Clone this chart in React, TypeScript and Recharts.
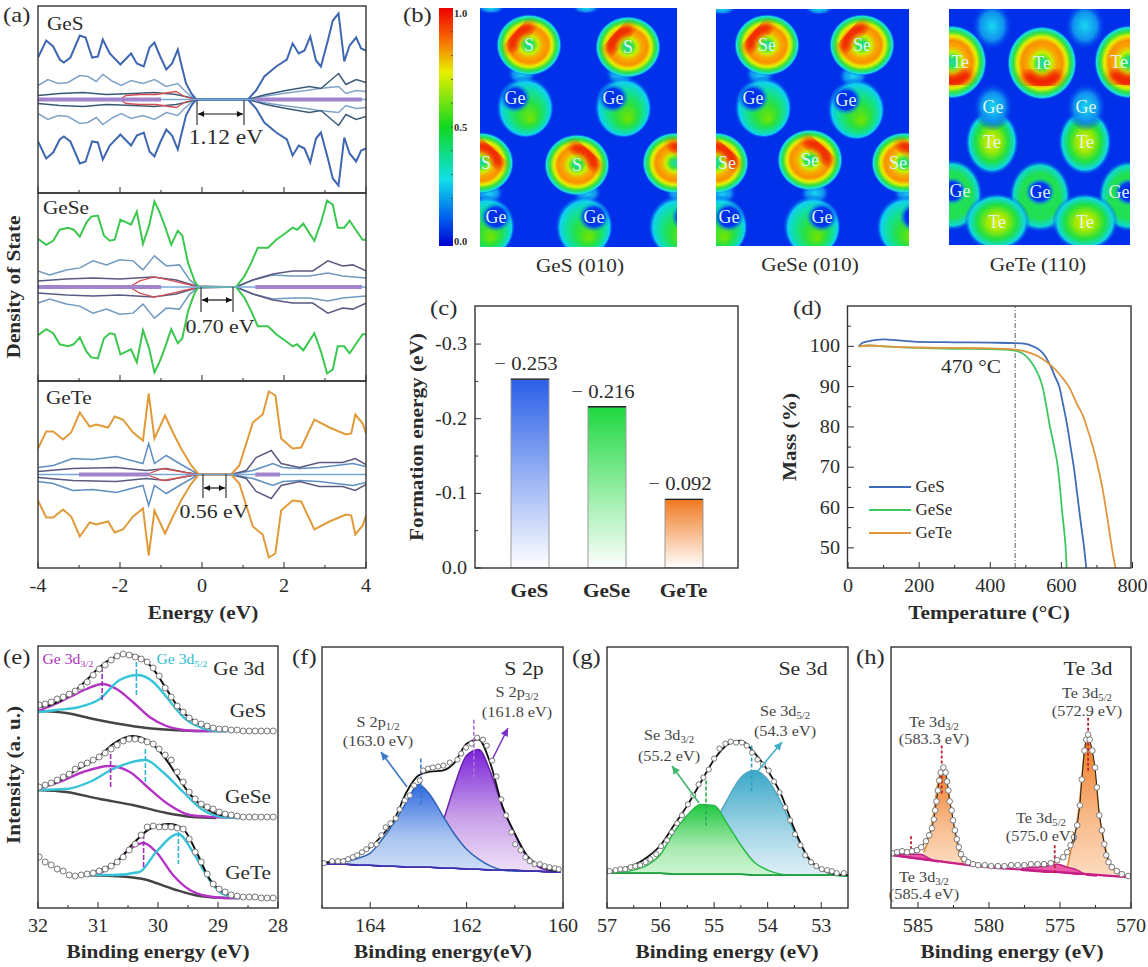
import React from 'react';
import {
  Area,
  Bar,
  ComposedChart,
  LabelList,
  Legend,
  Line,
  ReferenceLine,
  Scatter,
  ScatterChart,
  XAxis,
  YAxis,
} from 'recharts';

const SERIF = '"Liberation Serif", "Times New Roman", serif';
const INK = '#2b2b2b';

type Pair = number[];

// (a) density of states, mirrored around zero (the spin channels are symmetric)
const gesTotal = [[-4,42],[-3.8,59],[-3.63,53],[-3.47,40],[-3.37,37],[-3.21,42],[-2.98,64],[-2.84,62],[-2.68,42],[-2.54,43],[-2.42,60],[-2.25,46],[-1.99,35],[-1.73,46],[-1.59,36],[-1.42,33],[-1.28,52],[-1.16,57],[-1.02,43],[-0.87,30],[-0.73,36],[-0.59,50],[-0.51,36],[-0.39,16],[-0.26,6],[-0.14,0],[1.12,0],[1.32,9],[1.52,23],[1.81,33],[2.07,40],[2.21,56],[2.36,46],[2.5,49],[2.64,63],[2.78,39],[2.9,33],[3.07,59],[3.19,79],[3.33,86],[3.47,38],[3.6,54],[3.76,62],[3.88,51],[4,49]];
const gesLight = [[-4,14],[-3.76,20],[-3.51,16],[-3.27,17],[-2.98,24],[-2.78,23],[-2.58,18],[-2.42,25],[-2.17,18],[-1.97,14],[-1.73,19],[-1.44,16],[-1.16,20],[-0.87,13],[-0.59,16],[-0.43,9],[-0.26,3],[-0.14,0],[1.12,0],[1.48,3],[1.97,6],[2.54,9],[2.86,11],[3.33,13],[3.51,6],[3.76,9],[4,8]];
const gesDark = [[-4,4],[-3.47,6],[-2.9,7],[-2.33,5],[-1.68,6],[-1.16,7],[-0.63,5],[-0.3,2],[-0.14,0],[1.12,0],[1.56,5],[2.05,9],[2.62,13],[2.9,11],[3.33,26],[3.51,15],[3.76,20],[4,17]];
const gesRed = [[-2.01,0],[-1.85,4],[-1.52,5],[-1.12,5],[-0.63,8],[-0.43,3],[-0.18,0]];
const gesBand = [[[-4,0],[-1,0]],[[1.3,0],[3.9,0]]];

const geseTotal = [[-4,48],[-3.8,42],[-3.63,46],[-3.47,57],[-3.27,59],[-3.13,57],[-2.98,50],[-2.82,64],[-2.7,70],[-2.54,71],[-2.39,51],[-2.25,46],[-2.13,47],[-1.99,67],[-1.73,62],[-1.59,75],[-1.44,43],[-1.29,61],[-1.16,85],[-1.03,74],[-0.91,61],[-0.75,42],[-0.59,56],[-0.48,51],[-0.34,24],[-0.18,6],[-0.08,0],[0.83,0],[1.04,11],[1.2,24],[1.36,39],[1.61,39],[1.81,47],[2.05,54],[2.21,59],[2.32,57],[2.47,63],[2.74,46],[2.9,64],[3.05,86],[3.19,82],[3.31,59],[3.47,59],[3.6,66],[3.8,54],[3.92,47],[4,47]];
const geseLight = [[-4,16],[-3.72,12],[-3.31,17],[-2.98,19],[-2.66,26],[-2.33,22],[-2.01,27],[-1.68,26],[-1.44,17],[-1.16,31],[-0.87,21],[-0.55,22],[-0.3,7],[-0.08,0],[0.83,0],[1.24,7],[1.73,12],[2.21,11],[2.62,11],[3.07,14],[3.43,11],[4,9]];
const geseDark = [[-4,6],[-3.31,8],[-2.66,9],[-2.01,8],[-1.2,10],[-0.63,7],[-0.14,1],[0.83,0],[1.24,7],[1.73,13],[2.21,16],[2.7,16],[3.07,26],[3.43,21],[3.68,22],[4,16]];
const geseRed = [[-1.77,0],[-1.52,6],[-1.16,10],[-0.71,6],[-0.18,1]];
const geseBand = [[[-4,0],[-1,0]],[[1.3,0],[3.9,0]]];

const geteTotal = [[-4,26],[-3.8,43],[-3.63,43],[-3.39,35],[-3.19,42],[-2.98,62],[-2.74,48],[-2.58,50],[-2.29,47],[-2.13,58],[-1.93,55],[-1.68,42],[-1.44,34],[-1.3,81],[-1.16,36],[-0.9,59],[-0.71,42],[-0.51,26],[-0.26,9],[-0.08,0],[0.71,0],[0.91,9],[1.08,31],[1.24,52],[1.48,60],[1.63,83],[1.79,79],[1.93,36],[2.21,26],[2.42,27],[2.74,55],[3.11,47],[3.51,40],[3.64,41],[3.74,60],[3.92,51],[4,41]];
const geteLight = [[-4,7],[-3.63,9],[-3.15,16],[-2.66,15],[-2.09,18],[-1.44,11],[-1.3,31],[-1.16,11],[-0.87,19],[-0.55,11],[-0.08,0],[0.71,0],[1.24,4],[1.73,11],[1.97,7],[2.38,6],[2.86,7],[3.68,11],[4,8]];
const geteDark = [[-4,3],[-3.15,6],[-2.09,7],[-1.36,4],[-0.87,6],[-0.39,2],[-0.08,0],[0.71,0],[1.08,4],[1.32,17],[1.69,24],[1.93,11],[2.38,7],[2.86,12],[3.43,12],[3.74,16],[4,10]];
const geteRed = [[-1.36,0],[-0.95,6],[-0.39,2],[-0.14,0]];
const geteBand = [[[-3,0],[-1.3,0]],[[1.3,0],[1.9,0]]];

const energyTicks = [-4,-3,-2,-1,0,1,2,3,4];
const energyLabels = [-4,-2,0,2,4];

// (b) charge density maps: where the atoms sit, in map pixels
const gesAtoms = [
  { x: 11, y: 0, kind: 'cap' }, { x: 106, y: 0, kind: 'cap' },
  { x: 35, y: 90, kind: 'geLR', label: 'Ge' }, { x: 133, y: 90, kind: 'geLR', label: 'Ge' },
  { x: 16, y: 209, kind: 'geLL', label: 'Ge' }, { x: 114, y: 209, kind: 'geLL', label: 'Ge' }, { x: 207, y: 209, kind: 'geLL' },
  { x: 49, y: 37, kind: 'ringUL', label: 'S' }, { x: 148, y: 39, kind: 'ringUL', label: 'S' },
  { x: 97, y: 157, kind: 'ringUR', label: 'S' }, { x: 1, y: 155, kind: 'ringUR', label: 'S' }, { x: 195, y: 155, kind: 'ringUR' },
];
const geseAtoms = [
  { x: 6, y: 0, kind: 'cap' }, { x: 103, y: 0, kind: 'cap' },
  { x: 37, y: 89, kind: 'geLR', label: 'Ge' }, { x: 130, y: 91, kind: 'geLR', label: 'Ge' },
  { x: 13, y: 208, kind: 'geLL', label: 'Ge' }, { x: 106, y: 208, kind: 'geLL', label: 'Ge' }, { x: 199, y: 208, kind: 'geLL' },
  { x: 51, y: 36, kind: 'ringUL', label: 'Se' }, { x: 146, y: 36, kind: 'ringUL', label: 'Se' },
  { x: 94, y: 151, kind: 'ringUR', label: 'Se' }, { x: 0, y: 154, kind: 'ringUR', label: 'Se' }, { x: 188, y: 154, kind: 'ringUR', label: 'Se' },
];
const geteAtoms = [
  { x: 91, y: 205, kind: 'band' },
  { x: 43, y: 17, kind: 'glow' }, { x: 136, y: 17, kind: 'glow' },
  { x: 91, y: 183, kind: 'geDome', label: 'Ge' }, { x: 3, y: 182, kind: 'geDome', label: 'Ge' }, { x: 180, y: 183, kind: 'geDome', label: 'Ge' },
  { x: 48, y: 213, kind: 'teWide', label: 'Te' }, { x: 136, y: 213, kind: 'teWide', label: 'Te' },
  { x: 43, y: 133, kind: 'te', label: 'Te' }, { x: 136, y: 133, kind: 'te', label: 'Te' },
  { x: 44, y: 98, kind: 'glow', label: 'Ge' }, { x: 137, y: 98, kind: 'glow', label: 'Ge' },
  { x: 93, y: 54, kind: 'ringB', label: 'Te' }, { x: 3, y: 53, kind: 'ringB', label: 'Te' }, { x: 180, y: 53, kind: 'ringB', label: 'Te' },
];
const colorbarTicks = [0,0.1,0.2,0.3,0.4,0.5,0.6,0.7,0.8,0.9,1];

// (c) formation energy
const materials = ['GeS', 'GeSe', 'GeTe'];
const formationEnergy = [-0.253, -0.216, -0.092];
const formationTicks = [0,-0.05,-0.1,-0.15,-0.2,-0.25,-0.3];
const formationLabels = [0,-0.1,-0.2,-0.3];

// (d) thermogravimetry
const tgaGeS = [[30,100],[40,100.8],[60,101.3],[80,101.6],[100,101.7],[150,101.4],[200,101.1],[300,101],[400,100.9],[470,100.8],[500,100.6],[520,100],[540,99],[555,97.5],[570,95],[582,92.5],[594,90],[605,85.5],[617,80],[626,75],[635,70],[645,63],[655,56],[664,50],[670,45]];
const tgaGeSe = [[30,100],[60,100.2],[100,100],[200,99.6],[300,99.4],[400,99.3],[450,99.1],[470,98.9],[495,98],[520,95.5],[535,93],[547,90],[558,85],[568,80],[580,75],[590,70],[596,65],[601,60],[607,55],[612,50],[615,45]];
const tgaGeTe = [[30,100],[60,100.2],[100,100],[200,99.7],[300,99.6],[400,99.5],[470,99.2],[514,98.3],[545,97],[574,95],[600,92.5],[621,90],[645,85.5],[662,82.5],[675,79],[689,75],[703,70],[715,65],[730,57],[742,50],[752,45]];
const tempTicks = [0,100,200,300,400,500,600,700,800];
const tempLabels = [0,200,400,600,800];
const massTicks = [50,55,60,65,70,75,80,85,90,95,100,105];
const massLabels = [50,60,70,80,90,100];

// (e) Ge 3d
const geBE = [31.98,31.88,31.78,31.68,31.58,31.48,31.38,31.28,31.18,31.08,30.98,30.88,30.78,30.68,30.58,30.48,30.38,30.28,30.18,30.08,29.98,29.88,29.78,29.68,29.58,29.48,29.38,29.28,29.18,29.08,28.98,28.88,28.78,28.68,28.58,28.48,28.38,28.28,28.18,28.08];
const geSRaw = [203,204,206,209,211,214,217,221,226,233,239,243,248,252,254,253,251,249,246,240,232,220,211,202,196,190,186,184,182,180,179,179,178,178,177,177,177,177,177,177];
const geSFit = [[32,201],[31.75,204],[31.47,213],[31.19,228],[30.97,241],[30.75,250],[30.53,254],[30.31,251],[30.08,239],[29.86,219],[29.64,199],[29.42,188],[29.19,181],[28.86,178]];
const geSP = [[32,197],[31.75,203],[31.47,211],[31.19,219],[30.93,224],[30.69,219],[30.42,206],[30.14,191],[29.86,182],[29.58,178],[29.31,177],[28.86,177]];
const geSC = [[32,196],[31.69,198],[31.31,201],[30.97,209],[30.64,228],[30.33,233],[30.08,226],[29.86,211],[29.58,191],[29.31,181],[29.03,177],[28.75,177]];
const geSBg = [[32,197],[31.53,195],[31.08,189],[30.64,184],[30.19,180],[29.75,178],[29.31,177],[28.86,177]];
const geSeRaw = [121,123,125,128,131,134,139,143,145,148,151,155,159,163,167,169,169,168,166,164,159,153,148,136,126,116,109,104,101,99,96,94,93,92,91,91,91,91,91,91];
const geSeFit = [[32,121],[31.69,126],[31.36,138],[31.03,149],[30.75,164],[30.42,172],[30.14,166],[29.92,153],[29.69,133],[29.47,114],[29.19,99],[28.86,92],[28.42,91]];
const geSeP = [[32,119],[31.64,126],[31.25,136],[30.81,142],[30.47,136],[30.14,119],[29.81,103],[29.47,93],[29.08,91],[28.64,90]];
const geSeC = [[32,118],[31.53,119],[31.14,126],[30.75,139],[30.21,148],[29.92,136],[29.58,116],[29.25,98],[28.92,91],[28.64,90]];
const geSeBg = [[32,118],[31.53,116],[30.97,109],[30.42,103],[29.86,95],[29.42,91],[29.03,90]];
const geTeRaw = [51,46,43,39,37,33,32,33,34,35,37,39,42,46,51,58,64,73,81,82,81,81,81,80,79,69,56,46,34,24,19,16,13,12,11,11,11,10,10,10];
const geTeFit = [[31.25,33],[30.97,38],[30.69,46],[30.42,64],[30.14,79],[29.81,84],[29.58,79],[29.36,56],[29.14,29],[28.92,16],[28.64,11],[28.42,10]];
const geTeP = [[31.25,33],[30.97,35],[30.69,46],[30.47,59],[30.24,65],[30.03,56],[29.75,33],[29.47,18],[29.19,12],[28.86,10],[28.64,10]];
const geTeC = [[31.25,33],[30.75,33],[30.31,36],[30.03,56],[29.66,74],[29.42,56],[29.14,28],[28.92,14],[28.64,10]];
const geTeBg = [[31.25,33],[30.75,32],[30.25,29],[29.75,19],[29.31,12],[28.86,10],[28.64,10]];

// (f) S 2p
const sBE = [165,164.75,164.5,164.25,164,163.75,163.5,163.25,163,162.75,162.5,162.25,162,161.75,161.5,161.25,161,160.75,160.5,160.25,160.05];
const sBase = [44,44,44,43,43,42,42,41,41,41,40,40,39,39,38,38,38,37,37,36,36];
const sBlue = [44,45,47,50,55,69,86,106,124,113,93,74,59,49,42,38,37,37,37,36,36];
const sPurple = [44,44,44,43,43,42,42,43,49,63,86,123,153,159,136,101,74,51,41,37,36];
const sFit = [45,47,49,54,61,73,89,116,133,137,138,146,165,169,144,101,75,53,43,38,37];
const sRaw = [[164.96,45],[164.79,47],[164.67,47],[164.56,47],[164.46,49],[164.36,51],[164.27,53],[164.17,56],[164.08,59],[163.98,63],[163.87,64],[163.77,73],[163.68,81],[163.58,85],[163.47,90],[163.39,99],[163.28,108],[163.18,113],[163.09,123],[162.97,128],[162.9,138],[162.8,140],[162.7,141],[162.59,142],[162.48,143],[162.35,146],[162.19,149],[162.11,155],[162.01,161],[161.9,165],[161.78,171],[161.66,169],[161.58,163],[161.47,148],[161.38,132],[161.28,109],[161.18,93],[161.07,76],[160.99,64],[160.88,58],[160.78,51],[160.69,47],[160.59,44],[160.48,44],[160.38,42],[160.28,41],[160.17,40],[160.09,39]];

// (g) Se 3d
const seBE = [57,56.75,56.5,56.25,56,55.75,55.5,55.25,55,54.75,54.5,54.25,54,53.75,53.5,53.25,53,52.75,52.5];
const seBase = [35,35,35,35,35,34,34,34,34,34,34,33,33,33,33,33,33,33,32];
const seGreen = [35,36,38,43,54,76,93,104,103,84,63,46,38,34,33,33,33,33,32];
const seCyan = [35,35,35,35,35,35,39,49,83,109,131,138,129,106,76,51,39,34,33];
const seFit = [36,39,43,51,63,83,103,126,149,164,168,156,138,114,79,51,39,34,33];
const seRaw = [[56.95,37],[56.84,38],[56.75,39],[56.66,39],[56.56,41],[56.47,42],[56.38,43],[56.28,46],[56.19,49],[56.08,54],[55.99,62],[55.88,68],[55.79,76],[55.69,85],[55.6,93],[55.49,104],[55.39,113],[55.29,124],[55.2,131],[55.1,139],[55,150],[54.9,160],[54.79,165],[54.69,167],[54.59,166],[54.48,166],[54.39,163],[54.29,156],[54.19,149],[54.09,144],[53.98,138],[53.88,127],[53.78,116],[53.67,101],[53.58,88],[53.49,74],[53.39,63],[53.3,53],[53.19,46],[53.09,42],[52.99,39],[52.89,38],[52.8,37],[52.71,35],[52.58,35]];

// (h) Te 3d
const teRaw = [[586.81,55],[586.47,56],[586.12,57],[585.77,56],[585.42,57],[585.07,58],[584.77,61],[584.44,67],[584.21,73],[584.02,80],[583.88,89],[583.79,98],[583.7,107],[583.6,118],[583.51,128],[583.4,136],[583.21,141],[583.05,136],[582.95,127],[582.86,118],[582.77,107],[582.63,98],[582.53,88],[582.4,78],[582.26,69],[582.12,61],[581.98,54],[581.74,49],[581.47,46],[581.12,44],[580.77,43],[580.3,43],[579.84,42],[579.37,42],[578.91,42],[578.44,43],[577.98,43],[577.51,43],[577.05,44],[576.58,44],[576.12,44],[575.65,45],[575.19,48],[574.77,51],[574.49,56],[574.26,63],[574.02,71],[573.79,83],[573.6,103],[573.47,129],[573.28,158],[573.16,169],[573.02,174],[572.91,169],[572.72,158],[572.53,141],[572.4,121],[572.23,93],[572.05,78],[571.88,64],[571.74,53],[571.58,46],[571.35,41],[571,37],[570.65,34],[570.19,32]];
const teBase = [[586.81,53],[583.56,47],[580.07,41],[577.05,38],[574.02,35],[570.3,31]];
const tePeak1BE = [584.6,584.37,584.14,583.98,583.79,583.6,583.4,583.21,583.05,582.86,582.63,582.4,582.12,581.81];
const tePeak1 = [56,64,76,88,106,126,136,141,134,116,96,76,56,44];
const tePeak1Base = [49,48,48,48,47,47,47,46,46,46,45,45,44,44];
const tePeak2BE = [574.49,574.26,574.02,573.84,573.65,573.47,573.28,573.14,573.02,572.86,572.67,572.49,572.28,572.05,571.81,571.58,571.23,570.77];
const tePeak2 = [41,56,69,83,103,129,158,168,169,163,149,129,99,78,61,49,39,34];
const tePeak2Base = [35,35,35,34,34,34,34,34,34,33,33,33,33,33,32,32,32,32];
const tePink1BE = [586.81,585.88,584.84,584.26,583.56];
const tePink1 = [54,54,54,50,46];
const tePink1Base = [53,51,49,48,47];
const tePink2BE = [577.74,576.81,576,575.19,574.49,573.79,573.09,572.4];
const tePink2 = [40,41,42,44,41,38,33,32];
const tePink2Base = [38,37,36,36,35,34,34,33];

const pts = (pairs: Pair[], sign = 1) => pairs.map(([x, y]) => ({ x, y: y * sign }));
const zipPts = (xs: number[], ys: number[]) => xs.map((x, i) => ({ x, y: ys[i] }));
const band = (xs: number[], tops: number[], bases: number[]) => xs.map((x, i) => ({ x, r: [bases[i], tops[i]] }));
const seg = (x: number, a: number, b: number) => [{ x, y: a }, { x, y: b }];

// the reference's lettering is a bit wider than the serif we have, hence the scale
function T({ x, y, s = 18, b, a = 'middle', c = INK, r = 0, children }: any) {
  return (
    <text
      fontSize={s}
      fontWeight={b ? 700 : 400}
      textAnchor={a}
      fill={c}
      fontFamily={SERIF}
      transform={`translate(${x} ${y}) rotate(${r}) scale(1.12 1)`}
    >
      {children}
    </text>
  );
}

const xTick = (labels: number[], show = true) => (p: any) => {
  const v = p.payload.value;
  const major = labels.includes(v);
  return (
    <g>
      <line x1={p.x} x2={p.x} y1={p.y} y2={p.y - (major ? 6 : 3)} stroke={INK} />
      {major && show && <T x={p.x} y={p.y + 24}>{v}</T>}
    </g>
  );
};

const yTick = (labels: number[], fmt: (v: number) => string) => (p: any) => {
  const v = p.payload.value;
  const major = labels.includes(v);
  return (
    <g>
      <line x1={p.x} x2={p.x + (major ? 6 : 3)} y1={p.y} y2={p.y} stroke={INK} />
      {major && <T x={p.x - 8} y={p.y + 6} a="end">{fmt(v)}</T>}
    </g>
  );
};

// the axes need a size of at least 1px or they are not drawn, yw takes that off the margin
function Panel({ box, data, yw = 0, children }: { box: number[]; data?: any[]; yw?: number; children: React.ReactNode }) {
  const [x0, y0, x1, y1] = box;
  const L = 60, R = 16, T0 = 2, B = 40;
  return (
    <div style={{ position: 'absolute', left: x0 - L, top: y0 - T0 }}>
      <ComposedChart
        width={x1 - x0 + L + R}
        height={y1 - y0 + T0 + B}
        data={data}
        margin={{ left: L - yw, right: R, top: T0, bottom: B - 1 }}
      >
        {children}
      </ComposedChart>
    </div>
  );
}

const numX = (domain: number[], ticks: number[], labels: number[], reversed = false, show = true) => (
  <XAxis
    dataKey="x"
    type="number"
    domain={domain}
    ticks={ticks}
    reversed={reversed}
    allowDataOverflow
    interval={0}
    height={1}
    axisLine={false}
    tickLine={false}
    tickSize={0}
    tickMargin={0}
    tick={xTick(labels, show)}
  />
);

const line = (key: string, data: any[], stroke: string, width = 1.6, dash?: string) => (
  <Line
    key={key}
    data={data}
    dataKey="y"
    type="linear"
    stroke={stroke}
    strokeWidth={width}
    strokeDasharray={dash}
    dot={false}
    isAnimationActive={false}
    legendType="none"
  />
);

const curve = (key: string, data: any[], stroke: string, width = 2.4) => (
  <Line
    key={key}
    data={data}
    dataKey="y"
    type="monotone"
    stroke={stroke}
    strokeWidth={width}
    dot={false}
    isAnimationActive={false}
    legendType="none"
  />
);

const circles = (key: string, data: any[], r = 3) => (
  <Line
    key={key}
    data={data}
    dataKey="y"
    stroke="none"
    dot={{ r, fill: '#fff', stroke: '#777', strokeWidth: 1 }}
    isAnimationActive={false}
    legendType="none"
  />
);

const peak = (key: string, data: any[], fill: string, stroke: string) => (
  <Area
    key={key}
    data={data}
    dataKey="r"
    type="monotone"
    fill={fill}
    fillOpacity={1}
    stroke={stroke}
    strokeWidth={1.5}
    dot={false}
    isAnimationActive={false}
    legendType="none"
  />
);

function DosPanel({ box, total, light, dark, red, bands, color, lightColor, darkColor, showLabels }: any) {
  const groups: [string, Pair[], string, number][] = [
    ['light', light, lightColor, 1.5],
    ['dark', dark, darkColor, 1.5],
    ['red', red, '#d45050', 1.3],
    ['total', total, color, 2],
  ];
  return (
    <Panel box={box}>
      {numX([-4, 4], energyTicks, energyLabels, false, showLabels)}
      <YAxis hide type="number" domain={[-93.5, 93.5]} />
      {groups.map(([k, d, c, w]) => line(`${k}+`, pts(d), c, w))}
      {groups.map(([k, d, c, w]) => line(`${k}-`, pts(d, -1), c, w))}
      {line('axis', pts([[-4, 0], [4, 0]]), '#78a8d8', 1.6)}
      {bands.map((b: Pair[], i: number) => line(`band${i}`, pts(b), '#a284cc', 4))}
    </Panel>
  );
}

function XpsGe() {
  return (
    <Panel box={[38, 646, 278, 908]}>
      {numX([28, 32], [32,31.5,31,30.5,30,29.5,29,28.5,28], [32,31,30,29,28], true)}
      <YAxis hide type="number" domain={[0, 262]} />
      {circles('c1', zipPts(geBE, geSRaw))}
      {circles('c2', zipPts(geBE, geSeRaw))}
      {circles('c3', zipPts(geBE, geTeRaw))}
      {curve('b1', pts(geSBg), '#444')}
      {curve('b2', pts(geSeBg), '#444')}
      {curve('b3', pts(geTeBg), '#444')}
      {curve('p1', pts(geSP), '#b433c4')}
      {curve('p2', pts(geSeP), '#b433c4')}
      {curve('p3', pts(geTeP), '#b433c4')}
      {curve('t1', pts(geSC), '#37c4d8')}
      {curve('t2', pts(geSeC), '#37c4d8')}
      {curve('t3', pts(geTeC), '#37c4d8')}
      {curve('f1', pts(geSFit), '#111', 2)}
      {curve('f2', pts(geSeFit), '#111', 2)}
      {curve('f3', pts(geTeFit), '#111', 2)}
      {line('m1', seg(30.93, 241, 206), '#a030b8', 1.6, '5 2')}
      {line('m2', seg(30.36, 246, 213), '#30b8d0', 1.6, '5 2')}
      {line('m3', seg(30.79, 154, 119), '#a030b8', 1.6, '5 2')}
      {line('m4', seg(30.21, 159, 126), '#30b8d0', 1.6, '5 2')}
      {line('m5', seg(30.24, 74, 41), '#a030b8', 1.6, '5 2')}
      {line('m6', seg(29.66, 76, 44), '#30b8d0', 1.6, '5 2')}
    </Panel>
  );
}

function XpsS() {
  return (
    <Panel box={[322, 647, 563, 908]}>
      <defs>
        <linearGradient id="sPurpleFill" x1="0" y1="0" x2="0" y2="1">
          <stop offset="0%" stopColor="#7a24d8" />
          <stop offset="55%" stopColor="#c9a0e8" />
          <stop offset="100%" stopColor="#f0e2f8" />
        </linearGradient>
        <linearGradient id="sBlueFill" x1="0" y1="0" x2="0" y2="1">
          <stop offset="0%" stopColor="#2f6ae0" />
          <stop offset="60%" stopColor="#a9c4f0" />
          <stop offset="100%" stopColor="#cfe0f8" />
        </linearGradient>
      </defs>
      {numX([160, 165], [165,164,163,162,161,160], [164,162,160], true)}
      <YAxis hide type="number" domain={[0, 262]} />
      {peak('purple', band(sBE, sPurple, sBase), 'url(#sPurpleFill)', '#6a20a8')}
      {peak('blue', band(sBE, sBlue, sBase), 'url(#sBlueFill)', '#2f64b8')}
      {curve('base', zipPts(sBE, sBase), '#4030b0', 1.8)}
      {curve('fit', zipPts(sBE, sFit), '#111', 1.8)}
      {circles('raw', pts(sRaw), 2.6)}
      {line('m1', seg(162.95, 150, 103), '#3a78c8', 1.6, '4 2')}
      {line('m2', seg(161.85, 189, 129), '#b070d8', 1.6, '4 2')}
    </Panel>
  );
}

function XpsSe() {
  return (
    <Panel box={[607, 647, 848, 908]}>
      <defs>
        <linearGradient id="seCyanFill" x1="0" y1="0" x2="0" y2="1">
          <stop offset="0%" stopColor="#3aa8c8" />
          <stop offset="60%" stopColor="#a8d8e8" />
          <stop offset="100%" stopColor="#e0f0f8" />
        </linearGradient>
        <linearGradient id="seGreenFill" x1="0" y1="0" x2="0" y2="1">
          <stop offset="0%" stopColor="#20c840" />
          <stop offset="60%" stopColor="#a8eab0" />
          <stop offset="100%" stopColor="#d0f4d4" />
        </linearGradient>
      </defs>
      {numX([52.5, 57], [57,56.5,56,55.5,55,54.5,54,53.5,53], [57,56,55,54,53], true)}
      <YAxis hide type="number" domain={[0, 262]} />
      {peak('cyan', band(seBE, seCyan, seBase), 'url(#seCyanFill)', '#50a8c0')}
      {peak('green', band(seBE, seGreen, seBase), 'url(#seGreenFill)', '#28b848')}
      {curve('base', zipPts(seBE, seBase), '#20a040', 1.8)}
      {curve('fit', zipPts(seBE, seFit), '#111', 1.8)}
      {circles('raw', pts(seRaw), 2.6)}
      {line('m1', seg(55.15, 128, 83), '#30a850', 1.6, '4 2')}
      {line('m2', seg(54.3, 163, 117), '#30a0c0', 1.6, '4 2')}
    </Panel>
  );
}

function XpsTe() {
  return (
    <Panel box={[891, 647, 1131, 908]}>
      <defs>
        <linearGradient id="teOrangeFill" x1="0" y1="0" x2="0" y2="1">
          <stop offset="0%" stopColor="#f07a20" />
          <stop offset="55%" stopColor="#f8b888" />
          <stop offset="100%" stopColor="#fcdcc0" />
        </linearGradient>
      </defs>
      {numX([570, 586.9], [585,582.5,580,577.5,575,572.5,570], [585,580,575,570], true)}
      <YAxis hide type="number" domain={[0, 262]} />
      {peak('pk1', band(tePeak1BE, tePeak1, tePeak1Base), 'url(#teOrangeFill)', '#e08a30')}
      {peak('pk2', band(tePeak2BE, tePeak2, tePeak2Base), 'url(#teOrangeFill)', '#e08a30')}
      {peak('pink1', band(tePink1BE, tePink1, tePink1Base), '#ec5aa8', '#c02080')}
      {peak('pink2', band(tePink2BE, tePink2, tePink2Base), '#ec5aa8', '#c02080')}
      {curve('base', pts(teBase), '#c81e88', 2.2)}
      {line('fit', pts(teRaw), '#222', 1)}
      {circles('raw', pts(teRaw), 2.8)}
      {line('m1', seg(583.33, 163, 113), '#c02030', 1.8, '3 2')}
      {line('m2', seg(573.02, 191, 136), '#c02030', 1.8, '3 2')}
      {line('m3', seg(575.37, 63, 34), '#c02030', 1.8, '3 2')}
      {line('m4', seg(585.49, 72, 53), '#c02030', 1.8, '3 2')}
    </Panel>
  );
}

function FormationBar(p: any) {
  const top = Math.min(p.y, p.y + p.height);
  const h = Math.abs(p.height);
  return (
    <g>
      <rect x={p.x} y={top} width={p.width} height={h} fill={`url(#formFill${p.index})`} stroke="#999" strokeWidth={1} />
      <line x1={p.x} x2={p.x + p.width} y1={top} y2={top} stroke="#222" strokeWidth={1.4} />
    </g>
  );
}

function FormationLabel(p: any) {
  const top = Math.min(p.y, p.y + p.height);
  return (
    <T x={p.x + p.width / 2 - 4} y={top - 9} s={18.5}>
      {'\u2212 ' + Math.abs(p.value).toFixed(3)}
    </T>
  );
}

function FormationChart() {
  const rows = materials.map((name, i) => ({ name, value: formationEnergy[i] }));
  const colors = ['#2a5fe8', '#20d840', '#f07820'];
  return (
    <Panel box={[475, 306, 738, 568]} data={rows} yw={1}>
      <defs>
        {colors.map((c, i) => (
          <linearGradient key={c} id={`formFill${i}`} x1="0" y1="0" x2="0" y2="1">
            <stop offset="0%" stopColor={c} />
            <stop offset="100%" stopColor="#ffffff" />
          </linearGradient>
        ))}
      </defs>
      <XAxis
        dataKey="name"
        type="category"
        height={1}
        interval={0}
        padding={{ left: 16, right: 16 }}
        axisLine={false}
        tickLine={false}
        tickSize={0}
        tickMargin={0}
        tick={(p: any) => <T x={p.x} y={p.y + 29} s={19} b>{p.payload.value}</T>}
      />
      <YAxis
        type="number"
        width={1}
        reversed
        domain={[-0.351, 0]}
        ticks={formationTicks}
        interval={0}
        allowDataOverflow
        axisLine={false}
        tickLine={false}
        tickSize={0}
        tickMargin={0}
        tick={yTick(formationLabels, (v) => v.toFixed(1))}
      />
      <Bar dataKey="value" barSize={38} shape={FormationBar} isAnimationActive={false}>
        <LabelList dataKey="value" content={FormationLabel} />
      </Bar>
    </Panel>
  );
}

function TgaLegend({ payload }: any) {
  return (
    <div style={{ fontFamily: SERIF, fontSize: 17, color: INK }}>
      {(payload ?? []).map((item: any) => (
        <div key={item.value} style={{ display: 'flex', alignItems: 'center', height: 23 }}>
          <div style={{ width: 42, height: 2, background: item.color, marginRight: 5 }} />
          {item.value}
        </div>
      ))}
    </div>
  );
}

function TgaChart() {
  const series: [string, Pair[], string][] = [
    ['GeS', tgaGeS, '#3f6cb4'],
    ['GeSe', tgaGeSe, '#3cc860'],
    ['GeTe', tgaGeTe, '#e0963c'],
  ];
  return (
    <Panel box={[847.5, 306, 1132, 568]} yw={1}>
      {numX([0, 800], tempTicks, tempLabels)}
      <YAxis
        type="number"
        width={1}
        domain={[45, 110]}
        ticks={massTicks}
        interval={0}
        allowDataOverflow
        axisLine={false}
        tickLine={false}
        tickSize={0}
        tickMargin={0}
        tick={yTick(massLabels, (v) => String(v))}
      />
      <ReferenceLine x={470} stroke="#333" strokeWidth={0.8} strokeDasharray="5 2 1 2" />
      {series.map(([name, d, c]) => (
        <Line
          key={name}
          name={name}
          data={pts(d)}
          dataKey="y"
          type="monotone"
          stroke={c}
          strokeWidth={1.8}
          dot={false}
          isAnimationActive={false}
        />
      ))}
      <Legend
        layout="vertical"
        align="center"
        verticalAlign="middle"
        content={TgaLegend}
        wrapperStyle={{ left: 81, top: 171, width: 110 }}
      />
    </Panel>
  );
}

const ringAngle: Record<string, number> = { ringUL: -48, ringUR: 42, ringB: 180 };

const atomShape = (w: number) => (props: any) => {
  const { cx, cy } = props;
  const { kind, label } = props.payload ?? props;
  // labels of atoms on the map edge are pulled in so they stay readable
  const half = label ? label.length * 5 + 1 : 0;
  const labelX = Math.min(Math.max(cx, half), w - half) - cx;
  const text = label ? (
    <text x={labelX} y={6} textAnchor="middle" fontSize={18} fontFamily={SERIF} fill="#dff6f2">{label}</text>
  ) : null;
  let body: React.ReactNode = null;
  if (kind in ringAngle) {
    const big = kind === 'ringB';
    const rx = big ? 35 : 33;
    const ry = big ? 37 : 31;
    body = (
      <>
        <ellipse rx={rx} ry={ry} fill="url(#mapRing)" />
        <g transform={`rotate(${ringAngle[kind]})`} filter="url(#mapBlur)">
          <path
            d={`M ${-rx * 0.46} ${-ry * 0.26} A ${rx * 0.53} ${ry * 0.53} 0 0 1 ${rx * 0.46} ${-ry * 0.26}`}
            fill="none"
            stroke="#f01c00"
            strokeWidth={big ? 12 : 10}
          />
        </g>
      </>
    );
  } else if (kind === 'geLR' || kind === 'geLL') {
    const dx = kind === 'geLR' ? 10 : -10;
    body = (
      <>
        <ellipse cx={dx * 0.7} cy={-24} rx={15} ry={12} fill="url(#mapGlow)" />
        <ellipse cx={dx} cy={9} rx={29} ry={31} fill="url(#mapGe)" />
        <ellipse cx={0} cy={0} rx={16} ry={15} fill="url(#mapHole)" />
      </>
    );
  } else if (kind === 'geDome') {
    body = (
      <>
        <ellipse cx={0} cy={4} rx={31} ry={36} fill="url(#mapDome)" />
        <ellipse cx={0} cy={0} rx={15} ry={14} fill="url(#mapHole)" />
      </>
    );
  } else if (kind === 'te') {
    body = <ellipse rx={27} ry={33} fill="url(#mapTe)" />;
  } else if (kind === 'teWide') {
    body = <ellipse rx={33} ry={29} fill="url(#mapTe)" />;
  } else if (kind === 'glow') {
    body = <ellipse rx={20} ry={24} fill="url(#mapGlow)" />;
  } else if (kind === 'cap') {
    body = <ellipse rx={14} ry={6} fill="url(#mapGlow)" />;
  } else if (kind === 'band') {
    body = <ellipse rx={130} ry={17} fill="url(#mapGlow)" />;
  }
  return (
    <g transform={`translate(${cx},${cy})`}>
      {body}
      {text}
    </g>
  );
};

function MapDefs() {
  return (
    <defs>
      <radialGradient id="mapRing">
        <stop offset="0%" stopColor="#18d8b0" />
        <stop offset="14%" stopColor="#30e050" />
        <stop offset="28%" stopColor="#c8f000" />
        <stop offset="42%" stopColor="#f8a800" />
        <stop offset="58%" stopColor="#f89000" />
        <stop offset="70%" stopColor="#e8f000" />
        <stop offset="82%" stopColor="#30e040" />
        <stop offset="93%" stopColor="#18e0e0" />
        <stop offset="100%" stopColor="#0038f0" stopOpacity={0} />
      </radialGradient>
      <radialGradient id="mapGe" fx="0.6" fy="0.7">
        <stop offset="0%" stopColor="#78e400" />
        <stop offset="38%" stopColor="#28e040" />
        <stop offset="68%" stopColor="#10e0a0" />
        <stop offset="86%" stopColor="#10d0f0" />
        <stop offset="100%" stopColor="#0038f0" stopOpacity={0} />
      </radialGradient>
      <radialGradient id="mapDome">
        <stop offset="0%" stopColor="#20e060" />
        <stop offset="62%" stopColor="#20e050" />
        <stop offset="85%" stopColor="#10d8d0" />
        <stop offset="100%" stopColor="#0038f0" stopOpacity={0} />
      </radialGradient>
      <radialGradient id="mapHole">
        <stop offset="0%" stopColor="#0028e0" />
        <stop offset="62%" stopColor="#0038f0" />
        <stop offset="100%" stopColor="#10a0f0" stopOpacity={0} />
      </radialGradient>
      <radialGradient id="mapTe">
        <stop offset="0%" stopColor="#e4f000" />
        <stop offset="30%" stopColor="#a0e800" />
        <stop offset="60%" stopColor="#20e040" />
        <stop offset="84%" stopColor="#10d8e0" />
        <stop offset="100%" stopColor="#0038f0" stopOpacity={0} />
      </radialGradient>
      <radialGradient id="mapGlow">
        <stop offset="0%" stopColor="#18d8f0" />
        <stop offset="60%" stopColor="#1090f0" />
        <stop offset="100%" stopColor="#0038f0" stopOpacity={0} />
      </radialGradient>
      <filter id="mapBlur" x="-30%" y="-30%" width="160%" height="160%">
        <feGaussianBlur stdDeviation="3.2" />
      </filter>
    </defs>
  );
}

function DensityMap({ box, atoms }: { box: number[]; atoms: any[] }) {
  const [x0, y0, x1, y1] = box;
  const w = x1 - x0;
  const h = y1 - y0;
  return (
    <div style={{ position: 'absolute', left: x0, top: y0, width: w, height: h, background: '#0030ea' }}>
      <ScatterChart width={w} height={h} margin={{ left: 0, right: 0, top: 0, bottom: 0 }}>
        <MapDefs />
        <XAxis dataKey="x" type="number" hide domain={[0, w]} allowDataOverflow />
        <YAxis dataKey="y" type="number" hide reversed domain={[0, h]} allowDataOverflow />
        <Scatter data={atoms} shape={atomShape(w)} isAnimationActive={false} />
      </ScatterChart>
    </div>
  );
}

function Colorbar() {
  return (
    <div style={{ position: 'absolute', left: 439, top: 8 }}>
      <ComposedChart width={50} height={238} data={[{ name: 'scale', value: 1 }]} margin={{ left: 0, right: 35, top: 0, bottom: 0 }} barCategoryGap={0}>
        <defs>
          <linearGradient id="jet" x1="0" y1="0" x2="0" y2="1">
            <stop offset="0%" stopColor="#f00000" />
            <stop offset="12%" stopColor="#f86000" />
            <stop offset="27%" stopColor="#e8f000" />
            <stop offset="50%" stopColor="#10d820" />
            <stop offset="72%" stopColor="#10e0e8" />
            <stop offset="88%" stopColor="#0060f0" />
            <stop offset="100%" stopColor="#0000d0" />
          </linearGradient>
        </defs>
        <XAxis dataKey="name" hide />
        <YAxis
          orientation="right"
          type="number"
          width={1}
          domain={[0, 1]}
          ticks={colorbarTicks}
          interval={0}
          axisLine={false}
          tickLine={false}
          tickSize={0}
          tickMargin={0}
          tick={(p: any) => {
            const v = p.payload.value;
            const major = v === 0 || v === 0.5 || v === 1;
            const y = Math.min(Math.max(p.y, 5), 233);
            return (
              <g>
                <line x1={p.x - 2} x2={p.x} y1={p.y} y2={p.y} stroke="#333" strokeWidth={0.7} />
                {major && (
                  <text x={p.x + 1} y={y + 4} fontSize={10.5} fontWeight={700} fontFamily={SERIF} fill={INK}>{v.toFixed(1)}</text>
                )}
              </g>
            );
          }}
        />
        <Bar dataKey="value" fill="url(#jet)" isAnimationActive={false} />
      </ComposedChart>
    </div>
  );
}

// label with a subscript, like Te 3d + 5/2
function Sub({ x, y, head, sub, s = 14.5, c = '#444' }: any) {
  return (
    <T x={x} y={y} s={s} c={c}>
      {head}
      <tspan dy={3} fontSize={s * 0.66}>{sub}</tspan>
    </T>
  );
}

function Arrow({ x1, y1, x2, y2, c, w = 1.6, head = 6, both }: any) {
  const ang = Math.atan2(y2 - y1, x2 - x1);
  const tip = (tx: number, ty: number, a: number) => {
    const p = [
      [tx, ty],
      [tx - head * 1.5 * Math.cos(a - 0.45), ty - head * 1.5 * Math.sin(a - 0.45)],
      [tx - head * 1.5 * Math.cos(a + 0.45), ty - head * 1.5 * Math.sin(a + 0.45)],
    ];
    return <polygon points={p.map((q) => q.join(',')).join(' ')} fill={c} />;
  };
  return (
    <g>
      <line x1={x1} y1={y1} x2={x2} y2={y2} stroke={c} strokeWidth={w} />
      {tip(x2, y2, ang)}
      {both && tip(x1, y1, ang + Math.PI)}
    </g>
  );
}

function Gap({ x1, x2, y0, y1, ya }: any) {
  return (
    <g>
      <line x1={x1} x2={x1} y1={y0} y2={y1} stroke="#444" strokeWidth={1.3} />
      <line x1={x2} x2={x2} y1={y0} y2={y1} stroke="#444" strokeWidth={1.3} />
      <Arrow x1={x1 + 1} y1={ya} x2={x2 - 1} y2={ya} c="#111" w={1.2} head={4.5} both />
    </g>
  );
}

function Overlay() {
  const frames = [
    [38, 6, 366, 193], [38, 193, 366, 381], [38, 381, 366, 568],
    [475, 306, 738, 568], [847.5, 306, 1131, 568],
    [38, 646, 278, 908], [322, 647, 563, 908], [607, 647, 848, 908], [891, 647, 1131, 908],
  ];
  return (
    <svg width={1148} height={967} style={{ position: 'absolute', left: 0, top: 0, pointerEvents: 'none' }}>
      {frames.map(([a, b, c, d], i) => (
        <rect key={i} x={a} y={b} width={c - a} height={d - b} fill="none" stroke="#333" strokeWidth={1.4} />
      ))}

      <T x={3} y={22} s={22} a="start">(a)</T>
      <T x={403} y={22} s={22} a="start">(b)</T>
      <T x={430} y={315} s={22} a="start">(c)</T>
      <T x={793} y={315} s={22} a="start">(d)</T>
      <T x={3} y={664} s={22} a="start">(e)</T>
      <T x={292} y={664} s={22} a="start">(f)</T>
      <T x={572} y={664} s={22} a="start">(g)</T>
      <T x={856} y={664} s={22} a="start">(h)</T>

      <T x={47} y={30} s={19} a="start">GeS</T>
      <T x={43} y={214} s={19} a="start">GeSe</T>
      <T x={46} y={404} s={19} a="start">GeTe</T>
      <Gap x1={197} x2={244} y0={100} y1={125} ya={114} />
      <Gap x1={201} x2={233} y0={287} y1={312} ya={300} />
      <Gap x1={203} x2={226} y0={474} y1={498} ya={488} />
      <T x={226} y={144} s={21}>1.12 eV</T>
      <T x={220} y={333} s={19.5}>0.70 eV</T>
      <T x={214} y={518} s={19.5}>0.56 eV</T>
      <T x={203} y={619} s={19} b>Energy (eV)</T>
      <T x={20} y={287} s={19} b r={-90}>Density of State</T>

      <T x={580} y={272} s={19}>GeS (010)</T>
      <T x={810} y={271} s={19}>GeSe (010)</T>
      <T x={1038} y={271} s={19}>GeTe (110)</T>

      <T x={423} y={437} s={19} b r={-90}>Formation energy (eV)</T>
      <T x={971} y={373} s={19}>470 °C</T>
      <T x={989} y={619} s={19} b>Temperature (°C)</T>
      <T x={796} y={437} s={19} b r={-90}>Mass (%)</T>

      <Sub x={68} y={664} head="Ge 3d" sub="3/2" s={14} c="#b030c0" />
      <Sub x={182} y={664} head="Ge 3d" sub="5/2" s={14} c="#30c0d0" />
      <T x={239} y={675} s={19}>Ge 3d</T>
      <T x={248} y={717} s={19}>GeS</T>
      <T x={248} y={803} s={19}>GeSe</T>
      <T x={248} y={879} s={19}>GeTe</T>
      <T x={158} y={958} s={19} b>Binding energy (eV)</T>
      <T x={20} y={775} s={19} b r={-90}>Intensity (a. u.)</T>

      <T x={524} y={675} s={19.5}>S 2p</T>
      <Sub x={517} y={697} head="S 2p" sub="3/2" />
      <T x={517} y={717} s={14.5} c="#444">(161.8 eV)</T>
      <Sub x={378} y={727} head="S 2p" sub="1/2" />
      <T x={378} y={746} s={14.5} c="#444">(163.0 eV)</T>
      <Arrow x1={407} y1={787} x2={381} y2={752} c="#3a78c8" />
      <Arrow x1={493} y1={758} x2={508} y2={728} c="#7a30c8" />
      <T x={443} y={958} s={19} b>Binding energy(eV)</T>

      <T x={803} y={675} s={19.5}>Se 3d</T>
      <Sub x={785} y={716} head="Se 3d" sub="5/2" />
      <T x={785} y={736} s={14.5} c="#444">(54.3 eV)</T>
      <Sub x={669} y={740} head="Se 3d" sub="3/2" />
      <T x={669} y={761} s={14.5} c="#444">(55.2 eV)</T>
      <Arrow x1={699} y1={803} x2={672} y2={766} c="#40b868" />
      <Arrow x1={757} y1={772} x2={782} y2={742} c="#40b0c8" />
      <T x={727} y={958} s={19} b>Binding energy (eV)</T>

      <T x={1088} y={675} s={19.5}>Te 3d</T>
      <Sub x={1087} y={698} head="Te 3d" sub="5/2" />
      <T x={1087} y={716} s={14.5} c="#444">(572.9 eV)</T>
      <Sub x={934} y={727} head="Te 3d" sub="3/2" />
      <T x={934} y={744} s={14.5} c="#444">(583.3 eV)</T>
      <Sub x={1041} y={823} head="Te 3d" sub="5/2" />
      <T x={1041} y={841} s={14.5} c="#444">(575.0 eV)</T>
      <Sub x={924} y={882} head="Te 3d" sub="3/2" />
      <T x={924} y={899} s={14.5} c="#444">(585.4 eV)</T>
      <T x={1012} y={958} s={19} b>Binding energy (eV)</T>
    </svg>
  );
}

export default function App() {
  return (
    <div style={{ position: 'absolute', left: 0, top: 0, width: 1148, height: 967, background: '#fff', overflow: 'hidden' }}>
      <DosPanel box={[38, 6, 366, 193]} total={gesTotal} light={gesLight} dark={gesDark} red={gesRed} bands={gesBand} color="#3f66b0" lightColor="#7fa3c8" darkColor="#3a5a78" showLabels={false} />
      <DosPanel box={[38, 193, 366, 381]} total={geseTotal} light={geseLight} dark={geseDark} red={geseRed} bands={geseBand} color="#3cc850" lightColor="#6f9ac0" darkColor="#5a5a80" showLabels={false} />
      <DosPanel box={[38, 381, 366, 568]} total={geteTotal} light={geteLight} dark={geteDark} red={geteRed} bands={geteBand} color="#e09a3a" lightColor="#5f8fc0" darkColor="#5a5a80" showLabels />

      <Colorbar />
      <DensityMap box={[480, 8, 677, 247]} atoms={gesAtoms} />
      <DensityMap box={[716, 9, 909, 246]} atoms={geseAtoms} />
      <DensityMap box={[949, 9, 1130, 245]} atoms={geteAtoms} />

      <FormationChart />
      <TgaChart />

      <XpsGe />
      <XpsS />
      <XpsSe />
      <XpsTe />

      <Overlay />
    </div>
  );
}
